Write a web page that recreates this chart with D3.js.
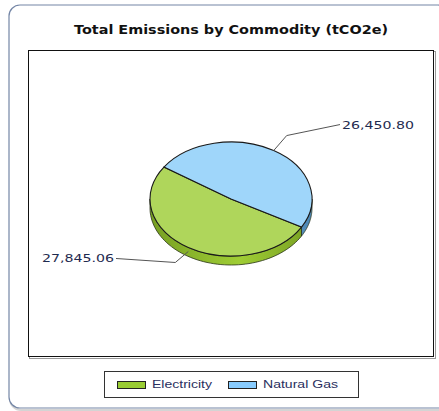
<!DOCTYPE html>
<html>
<head>
<meta charset="utf-8">
<script src="https://cdn.jsdelivr.net/npm/d3@7"></script>
<style>
  body { margin: 0; background: #fff; }
  svg { display: block; }
</style>
</head>
<body>
<div id="chart"></div>
<script>
const width = 439;
const height = 411;

// data
const commodities = ["Electricity", "Natural Gas"];
const emissions = [27845.06, 26450.80];
const topColors = ["#afd65b", "#9fd6fa"];
const sideDark = ["#779f22", "#4d86b3"];
const sideLight = ["#9fcd35", "#76b3de"];
const swatchColors = ["#99cc33", "#88ccff"];
const chartTitle = "Total Emissions by Commodity (tCO2e)";

const cx = 231, cy = 199, rx = 81, ry = 57, depth = 9;
const toRad = Math.PI / 180;

const svg = d3.select("#chart").append("svg")
    .attr("width", width)
    .attr("height", height);

const defs = svg.append("defs");
commodities.forEach((c, i) => {
    const g = defs.append("linearGradient")
        .attr("id", "side" + i)
        .attr("gradientUnits", "userSpaceOnUse")
        .attr("x1", cx - rx).attr("x2", cx + rx)
        .attr("y1", 0).attr("y2", 0);
    g.append("stop").attr("offset", "0%").attr("stop-color", sideDark[i]);
    g.append("stop").attr("offset", "55%").attr("stop-color", sideLight[i]);
    g.append("stop").attr("offset", "100%").attr("stop-color", sideDark[i]);
});

// ===== OUTER FRAME =====
svg.append("rect")
    .attr("x", 10).attr("y", 7)
    .attr("width", 440).attr("height", 403)
    .attr("rx", 11)
    .attr("fill", "none")
    .attr("stroke", "#d4d4d4")
    .attr("stroke-width", 2);
svg.append("rect")
    .attr("x", 9).attr("y", 5)
    .attr("width", 440).attr("height", 403)
    .attr("rx", 11)
    .attr("fill", "#fff")
    .attr("stroke", "#7486a6")
    .attr("stroke-width", 1.2);

// ===== TITLE =====
svg.append("text")
    .attr("x", 231).attr("y", 34)
    .attr("text-anchor", "middle")
    .attr("textLength", 314)
    .attr("lengthAdjust", "spacingAndGlyphs")
    .style("font-family", "'DejaVu Sans', Verdana, sans-serif")
    .style("font-weight", "bold")
    .style("font-size", "12px")
    .style("fill", "#111")
    .text(chartTitle);

// ===== PLOT AREA =====
svg.append("rect")
    .attr("x", 29.5).attr("y", 51.5)
    .attr("width", 406).attr("height", 307)
    .attr("fill", "none")
    .attr("stroke", "#999");
svg.append("rect")
    .attr("x", 28.5).attr("y", 50.5)
    .attr("width", 405).attr("height", 306)
    .attr("fill", "#fff")
    .attr("stroke", "#111");

// ===== PIE =====
const pie = d3.pie().sort(null)
    .startAngle(119.5 * toRad)
    .endAngle(479.5 * toRad);
const arcs = pie(emissions);

// point on the top ellipse for a d3 angle
const pt = (a, dy = 0) => [cx + rx * Math.sin(a), cy - ry * Math.cos(a) + dy];

const line = d3.line();
const pieG = svg.append("g");

// side walls (visible between 90 and 270 degrees)
arcs.forEach((d, i) => {
    [0, 2 * Math.PI].forEach((shift) => {
        const lo = Math.max(d.startAngle, Math.PI / 2 + shift);
        const hi = Math.min(d.endAngle, 1.5 * Math.PI + shift);
        if (hi <= lo) return;
        const steps = d3.range(lo, hi, (hi - lo) / 60).concat([hi]);
        const pts = steps.map((a) => pt(a))
            .concat(steps.slice().reverse().map((a) => pt(a, depth)));
        pieG.append("path")
            .attr("d", line(pts) + "Z")
            .attr("fill", `url(#side${i})`)
            .attr("stroke", "#2a3318")
            .attr("stroke-width", 0.8)
            .attr("stroke-linejoin", "round");
    });
});

// top faces
const arc = d3.arc().innerRadius(0).outerRadius(rx);
pieG.selectAll(".slice")
    .data(arcs)
    .enter()
    .append("path")
    .attr("class", "slice")
    .attr("transform", `translate(${cx},${cy}) scale(1,${ry / rx})`)
    .attr("d", arc)
    .attr("fill", (d, i) => topColors[i])
    .attr("stroke", "#1a1a1a")
    .attr("stroke-width", 1.1)
    .attr("vector-effect", "non-scaling-stroke");

// ===== LABELS =====
const fmt = d3.format(",.2f");
const labelStyle = (t) => t
    .style("font-family", "'DejaVu Sans', Verdana, sans-serif")
    .style("font-size", "11px")
    .style("fill", "#1f2b4f");

arcs.forEach((d, i) => {
    const mid = (d.startAngle + d.endAngle) / 2;
    const onRight = Math.sin(mid) > 0;
    const lowerHalf = Math.cos(mid) < 0;
    const p0 = pt(mid, lowerHalf ? depth * 0.45 : 0);
    const elbow = onRight ? [p0[0] + 13, p0[1] - 15] : [p0[0] - 13, p0[1] + 11];
    const end = onRight ? [340, elbow[1] - 11] : [116, elbow[1] - 4];
    pieG.append("path")
        .attr("d", line([p0, elbow, end]))
        .attr("fill", "none")
        .attr("stroke", "#555")
        .attr("stroke-width", 1);
    svg.append("text")
        .attr("x", onRight ? end[0] + 2 : end[0] - 2)
        .attr("y", end[1] + 4)
        .attr("text-anchor", onRight ? "start" : "end")
        .attr("textLength", 72)
        .attr("lengthAdjust", "spacingAndGlyphs")
        .call(labelStyle)
        .text(fmt(emissions[i]));
});

// ===== LEGEND =====
svg.append("rect")
    .attr("x", 104.5).attr("y", 371.5)
    .attr("width", 254).attr("height", 26)
    .attr("fill", "#fff")
    .attr("stroke", "#333");

const legendX = d3.scaleOrdinal().domain(commodities).range([117, 228]);
const legendTextW = [60, 75];
const leg = svg.selectAll(".leg")
    .data(commodities)
    .enter()
    .append("g")
    .attr("class", "leg")
    .attr("transform", (d) => `translate(${legendX(d)},0)`);
leg.append("rect")
    .attr("x", 0.5).attr("y", 381.5)
    .attr("width", 28).attr("height", 7)
    .attr("fill", (d, i) => swatchColors[i])
    .attr("stroke", "#222");
leg.append("text")
    .attr("x", 35).attr("y", 388)
    .attr("textLength", (d, i) => legendTextW[i])
    .attr("lengthAdjust", "spacingAndGlyphs")
    .style("font-family", "'Liberation Sans', Arial, sans-serif")
    .style("font-size", "11px")
    .style("fill", "#2a2f5e")
    .text((d) => d);
</script>
</body>
</html>
